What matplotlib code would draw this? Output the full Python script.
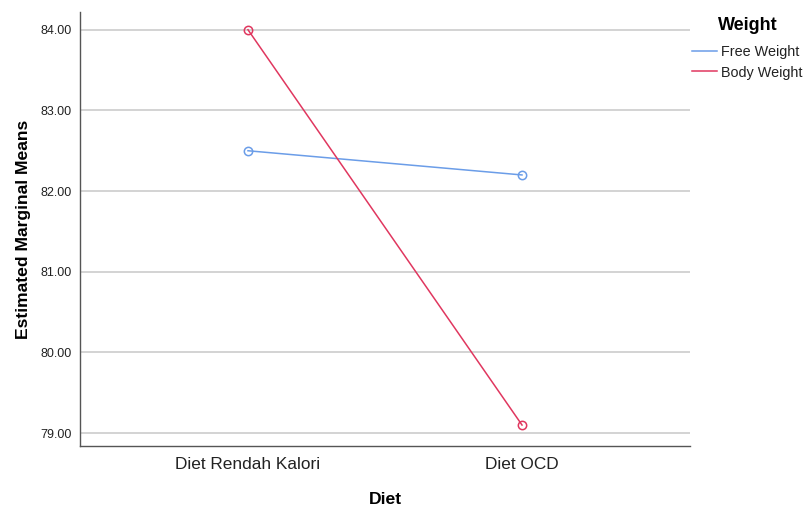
import matplotlib
matplotlib.use("Agg")
import matplotlib.pyplot as plt
from matplotlib.lines import Line2D
import numpy as np

plt.rcParams["font.family"] = ["Liberation Sans", "DejaVu Sans"]

diets = ["Diet Rendah Kalori", "Diet OCD"]
free_weight = [82.5, 82.2]
body_weight = [84.0, 79.1]
y_ticks = [79, 80, 81, 82, 83, 84]

blue = "#6b9de8"
red = "#e0375f"

fig = plt.figure(figsize=(8.07, 5.09), dpi=100)
ax = fig.add_axes([80 / 807, 63 / 509, 610 / 807, 434 / 509])

x = np.arange(len(diets))
ax.plot(x, free_weight, color=blue, lw=1.1, marker="o", ms=6,
        mfc="none", mec=blue, mew=1.1, zorder=3)
ax.plot(x, body_weight, color=red, lw=1.1, marker="o", ms=6,
        mfc="none", mec=red, mew=1.1, zorder=3)

ax.set_xlim(-0.613, 1.613)
ax.set_ylim(78.84, 84.22)
ax.set_xticks(x)
ax.set_xticklabels(diets, fontsize=12.4, color="#222222")
ax.set_yticks(y_ticks)
ax.set_yticklabels([f"{v:.2f}" for v in y_ticks], fontsize=9, color="#222222")
ax.tick_params(axis="both", length=0)
ax.tick_params(axis="x", pad=8)
ax.tick_params(axis="y", pad=6)

ax.grid(axis="y", color="#cccccc", lw=1.2, zorder=0)
ax.set_axisbelow(True)
for side in ["top", "right"]:
    ax.spines[side].set_visible(False)
for side in ["left", "bottom"]:
    ax.spines[side].set_color("#555555")
    ax.spines[side].set_linewidth(1.0)

ax.set_xlabel("Diet", fontsize=12.6, fontweight="bold", labelpad=14)
ax.set_ylabel("Estimated Marginal Means", fontsize=12.6, fontweight="bold", labelpad=7)

# legend: line-only handles, title placed separately
handles = [Line2D([], [], color=blue, lw=1.1), Line2D([], [], color=red, lw=1.1)]
leg = fig.legend(handles, ["Free Weight", "Body Weight"], loc="upper left",
                 bbox_to_anchor=(692 / 807, 1 - 45 / 509),
                 frameon=False, fontsize=10.4,
                 handlelength=1.75, handletextpad=0.25, borderpad=0,
                 borderaxespad=0, labelspacing=0.45)
for t in leg.get_texts():
    t.set_color("#222222")
fig.text(748 / 807, 1 - 25 / 509, "Weight", fontsize=13, fontweight="bold",
         ha="center", va="center")

fig.savefig("out.png", dpi=100)
